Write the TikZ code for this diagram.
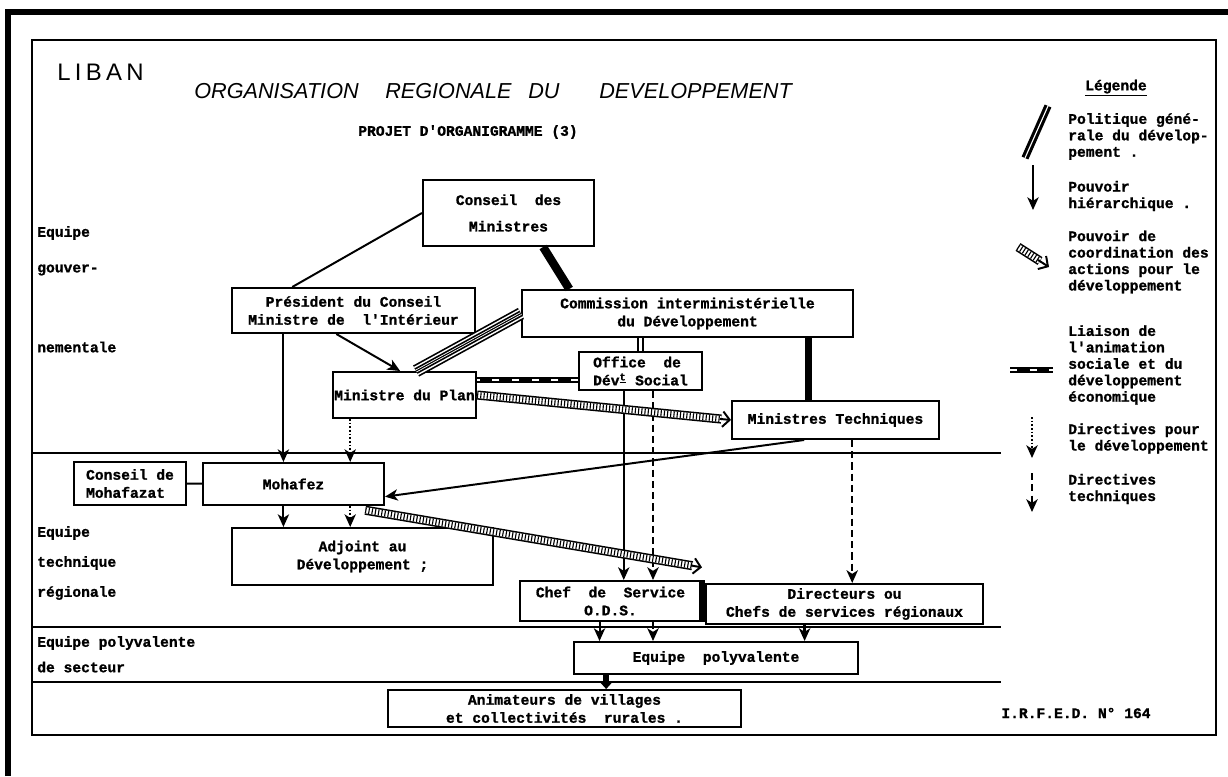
\documentclass[tikz,border=0pt]{standalone}
\usepackage{fontspec}
\setmainfont{Liberation Serif}
\setmonofont[BoldFeatures={FakeBold=1.2}]{Liberation Mono}
\newfontfamily\titrefont{Liberation Sans}
\newfontfamily\libanfont[LetterSpace=18]{Liberation Sans}
\usepackage{tikz}
\usetikzlibrary{arrows.meta, calc}
\tikzset{>={Stealth[length=9pt,width=8pt,inset=2.5pt]}}

\tikzset{
  boite/.style={draw, line width=1.4pt, fill=white, align=center, inner sep=1pt,
    font=\ttfamily\bfseries\fontsize{10.4pt}{12.8pt}\selectfont},
  etiq/.style={anchor=west, inner sep=0pt, align=left,
    font=\ttfamily\bfseries\fontsize{10.4pt}{11.7pt}\selectfont},
  legende/.style={anchor=west, inner sep=0pt, align=left,
    font=\ttfamily\bfseries\fontsize{10.4pt}{11.7pt}\selectfont},
  hierarchie/.style={line width=1.4pt, ->},
  pointille/.style={line width=1.4pt, dash pattern=on 1.3pt off 1.3pt, ->},
  tirets/.style={line width=1.7pt, dash pattern=on 5pt off 3pt, ->},
  politique/.style={line width=5pt},
  politiquedouble/.style={double, double distance=1.6pt, line width=1.8pt},
  faisceau/.style={line width=9pt, postaction={draw=white, line width=6.6pt},
    postaction={draw=black, line width=4.4pt}, postaction={draw=white, line width=2pt},
    postaction={draw=black, line width=0.8pt}},
  coord/.style={line width=6.5pt, postaction={draw=white, line width=4.3pt},
    postaction={draw=black, line width=4.3pt, dash pattern=on 0.8pt off 1.5pt}},
  tetecoord/.style={line width=1.4pt, -{Straight Barb[length=5pt,width=11pt]}},
  liaison/.style={line width=4.5pt, postaction={draw=white, line width=1.4pt, dash pattern=on 5pt off 9pt}},
}

\begin{document}
\begin{tikzpicture}[x=0.025cm, y=-0.025cm]
\useasboundingbox (0,0) rectangle (1228,776);

 % Cadres
 \draw[line width=4.5pt] (8,776) -- (8,12) -- (1228,12);
 \draw[line width=1.4pt] (32,40) rectangle (1216,735);
 \draw[line width=1.3pt] (32,453) -- (1001,453);
 \draw[line width=1.3pt] (32,627) -- (1001,627);
 \draw[line width=1.3pt] (32,682) -- (1001,682);

 % Titres
 \node[anchor=base west, inner sep=0pt, font=\libanfont\fontsize{17pt}{17pt}\selectfont] (liban) at (57,80) {LIBAN};
 \node[anchor=base west, inner sep=0pt, font=\titrefont\itshape\fontsize{15.4pt}{16pt}\selectfont] (titre1) at (194,98) {ORGANISATION};
 \node[anchor=base west, inner sep=0pt, font=\titrefont\itshape\fontsize{15.4pt}{16pt}\selectfont] (titre2) at (385,98) {REGIONALE};
 \node[anchor=base west, inner sep=0pt, font=\titrefont\itshape\fontsize{15.4pt}{16pt}\selectfont] (titre3) at (528,98) {DU};
 \node[anchor=base west, inner sep=0pt, font=\titrefont\itshape\fontsize{15.4pt}{16pt}\selectfont] (titre4) at (599,98) {DEVELOPPEMENT};
 \node[legende, anchor=center] (projet) at (468,132) {PROJET D'ORGANIGRAMME (3)};

 % Equipes
 \node[etiq] (gouv1) at (37,233) {Equipe};
 \node[etiq] (gouv2) at (37,270) {gouver-};
 \node[etiq] (gouv3) at (37,347) {nementale};
 \node[etiq] (tech1) at (37,533) {Equipe};
 \node[etiq] (tech2) at (37,563) {technique};
 \node[etiq] (tech3) at (37,593) {régionale};
 \node[etiq] (poly1) at (37,643) {Equipe polyvalente};
 \node[etiq] (poly2) at (37,667) {de secteur};

 % Boites
 \node[boite, minimum width=4.275cm, minimum height=1.65cm] (conseil) at (508.5,213) {Conseil\ \ des\\[6pt]Ministres};
 \node[boite, minimum width=6.075cm, minimum height=1.125cm] (president) at (353.5,310.5) {Président du Conseil\\Ministre de\ \ l'Intérieur};
 \node[boite, minimum width=8.275cm, minimum height=1.175cm] (commission) at (687.5,313.5) {Commission interministérielle\\du Développement};
 \node[boite, minimum width=3.075cm, minimum height=0.95cm, align=left] (office) at (640.5,371) {Office\ \ de\\Dév\textsuperscript{\underline{t}} Social};
 \node[boite, minimum width=3.575cm, minimum height=1.15cm] (plan) at (404.5,395) {Ministre du Plan};
 \node[boite, minimum width=5.175cm, minimum height=0.95cm] (mintech) at (835.5,420) {Ministres Techniques};
 \node[boite, minimum width=2.8cm, minimum height=1.075cm, align=left] (cmohafazat) at (130,483.5) {Conseil de\\Mohafazat};
 \node[boite, minimum width=4.525cm, minimum height=1.05cm] (mohafez) at (293.5,484) {Mohafez};
 \node[boite, minimum width=6.525cm, minimum height=1.425cm] (adjoint) at (362.5,556.5) {Adjoint au\\Développement ;};
 \node[boite, minimum width=4.525cm, minimum height=1cm] (chef) at (610.5,601) {Chef\ \ de\ \ Service\\O.D.S.};
 \node[boite, minimum width=6.925cm, minimum height=1cm] (directeurs) at (844.5,604) {Directeurs ou\\Chefs de services régionaux};
 \node[boite, minimum width=7.1cm, minimum height=0.8cm] (equipe) at (716,658) {Equipe\ \ polyvalente};
 \node[boite, minimum width=8.825cm, minimum height=0.925cm] (animateurs) at (564.5,708.5) {Animateurs de villages\\et collectivités\ \ rurales .};

 % Politique generale
 \draw[politique, line width=6pt] ($(conseil.south west)!0.7!(conseil.south east)$) -- ($(commission.north west)!0.145!(commission.north east)$);
 \coordinate (ct) at ($(mintech.north west)!0.37!(mintech.north east)$);
 \draw[politique] (ct) -- (ct |- commission.south);
 \draw[politiquedouble] (office.north) -- (office.north |- commission.south);
 \draw[faisceau] (commission.west) -- ($(plan.north west)!0.58!(plan.north east)$);
 \draw[line width=4pt] (chef.north east) -- (chef.south east);
 \coordinate (e1) at ($(equipe.south west)!0.116!(equipe.south east)$);
 \draw[line width=4pt, -{Stealth[length=5pt,width=9pt]}] (e1) -- (e1 |- animateurs.north);

 % Pouvoir hierarchique
 \draw[line width=1.4pt] (conseil.west) -- ($(president.north west)!0.25!(president.north east)$);
 \draw[hierarchie] ($(president.south west)!0.43!(president.south east)$) -- ($(plan.north west)!0.47!(plan.north east)$);
 \coordinate (ph) at ($(president.south west)!0.214!(president.south east)$);
 \draw[hierarchie] (ph) -- (ph |- mohafez.north);
 \draw[hierarchie] (ph |- mohafez.south) -- (ph |- adjoint.north);
 \draw[line width=1.4pt] (cmohafazat) -- (mohafez);
 \coordinate (o1) at ($(office.south west)!0.366!(office.south east)$);
 \coordinate (o2) at ($(office.south west)!0.6!(office.south east)$);
 \draw[hierarchie] (o1) -- (o1 |- chef.north);
 \draw[hierarchie] ($(mintech.south west)!0.35!(mintech.south east)$) -- ([yshift=-9pt]mohafez.east);
 \coordinate (c1) at ($(chef.south west)!0.44!(chef.south east)$);
 \draw[hierarchie] (c1) -- (c1 |- equipe.north);

 % Directives
 \coordinate (pd) at ($(plan.south west)!0.126!(plan.south east)$);
 \draw[pointille] (pd) -- (pd |- mohafez.north);
 \draw[pointille] (pd |- mohafez.south) -- (pd |- adjoint.north);
 \draw[tirets] (o2) -- (o2 |- chef.north);
 \coordinate (mt) at ($(mintech.south west)!0.58!(mintech.south east)$);
 \draw[tirets] (mt) -- (mt |- directeurs.north);
 \draw[tirets] (o2 |- chef.south) -- (o2 |- equipe.north);
 \coordinate (d1) at ($(directeurs.south west)!0.357!(directeurs.south east)$);
 \draw[tirets] (d1) -- (d1 |- equipe.north);

 % Liaison
 \coordinate (lo) at ([yshift=-6.4pt]office.west);
 \draw[liaison] (lo) -- (lo -| plan.east);

 % Coordination
 \draw[coord] (plan.east) -- ($(mintech.west)!7pt!(plan.east)$);
 \draw[tetecoord] ($(mintech.west)!8pt!(plan.east)$) -- (mintech.west);
 \coordinate (ms) at ([xshift=-14pt, yshift=-3pt]mohafez.south east);
 \coordinate (ce) at ([yshift=9pt]chef.north east);
 \draw[coord] (ms) -- ($(ce)!7pt!(ms)$);
 \draw[tetecoord] ($(ce)!8pt!(ms)$) -- (ce);

 % Legende
 \node[legende, anchor=center] (leg) at (1116,88) {\underline{Légende}};
 \draw[politiquedouble, line width=2.2pt, double distance=0.8pt] (1025,158) -- (1048,106);
 \node[legende] (leg1) at (1068,136.5) {Politique géné-\\rale du dévelop-\\pement .};
 \draw[hierarchie] (1033,165) -- (1033,210);
 \node[legende] (leg2) at (1068,196) {Pouvoir\\hiérarchique .};
 \draw[coord] (1018,247) -- (1040,261);
 \draw[tetecoord] (1038,260) -- (1049,267);
 \node[legende] (leg3) at (1068,262) {Pouvoir de\\coordination des\\actions pour le\\développement};
 \draw[liaison] (1010,370) -- (1053,370);
 \node[legende] (leg4) at (1068,365) {Liaison de\\l'animation\\sociale et du\\développement\\économique};
 \draw[pointille] (1032,417) -- (1032,458);
 \node[legende] (leg5) at (1068,438.5) {Directives pour\\le développement};
 \draw[tirets] (1032,473) -- (1032,512);
 \node[legende] (leg6) at (1068,489) {Directives\\techniques};

 \node[legende, anchor=center] (irfed) at (1076,713) {I.R.F.E.D. N° 164};

\end{tikzpicture}
\end{document}
